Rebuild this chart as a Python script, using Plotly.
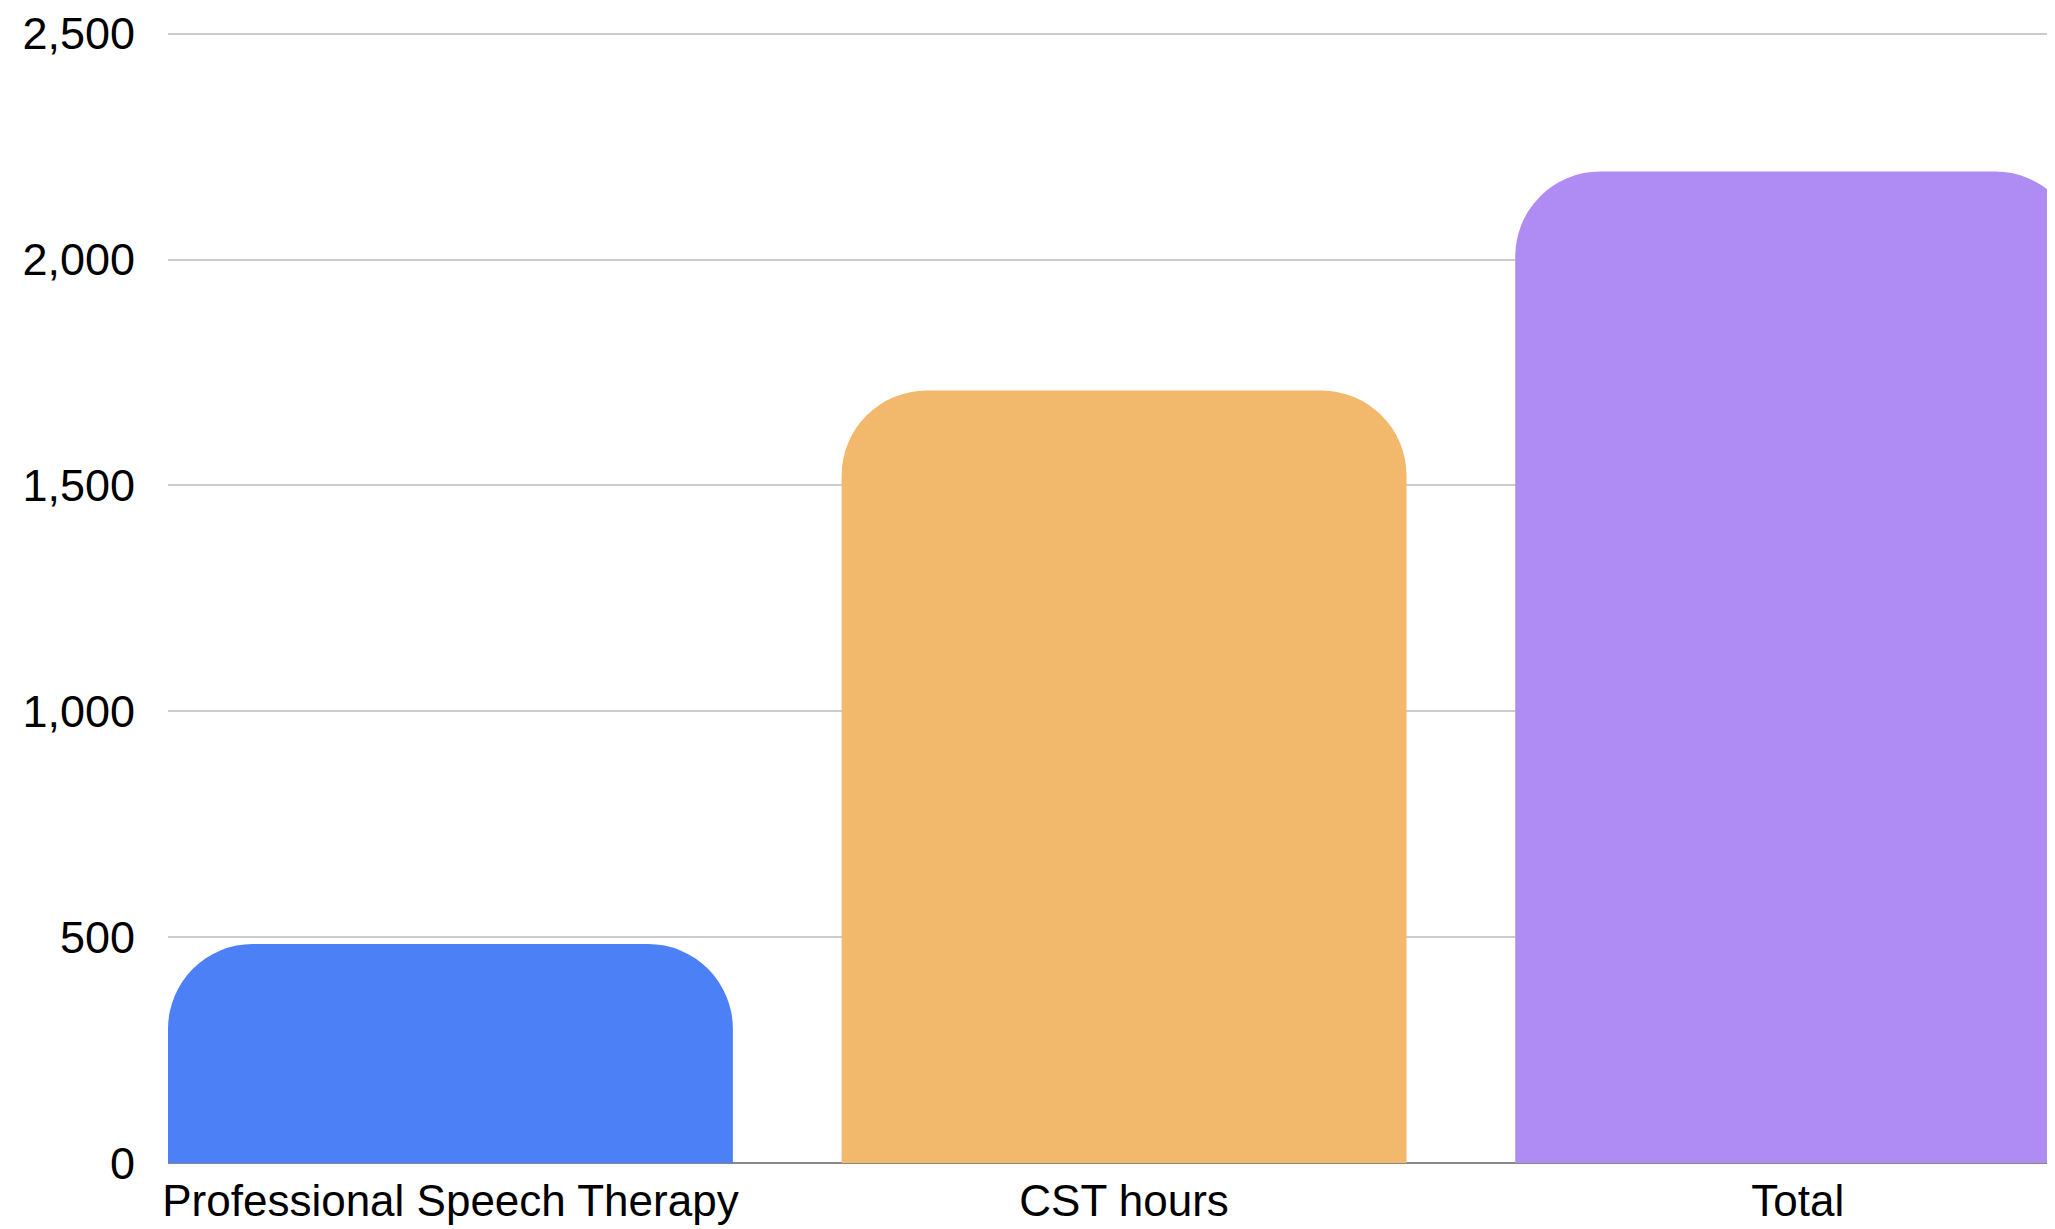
import plotly.graph_objects as go

categories = ["Professional Speech Therapy", "CST hours", "Total"]
values = [485, 1710, 2195]
colors = ["#4C80F6", "#F2B86C", "#AE8CF3"]
y_ticks = [0, 500, 1000, 1500, 2000, 2500]

fig = go.Figure(go.Bar(
    x=categories,
    y=values,
    marker=dict(color=colors, cornerradius=85, line=dict(width=0)),
    width=0.8386,
    hoverinfo="skip",
))

fig.update_layout(
    width=2047,
    height=1221,
    margin=dict(l=160, r=0, t=23, b=66),
    paper_bgcolor="white",
    plot_bgcolor="white",
    showlegend=False,
    font=dict(family="Liberation Sans, Arial, Helvetica, sans-serif", size=44, color="black"),
    xaxis=dict(
        range=[-0.4193, 2.382],
        automargin=False,
        showgrid=False,
        showline=False,
        zeroline=False,
        ticks="",
        ticklabelstandoff=8,
        tickfont=dict(size=44),
    ),
    yaxis=dict(
        range=[0, 2506],
        automargin=False,
        tickvals=y_ticks,
        tickformat=",",
        showgrid=True,
        gridcolor="#CCCCCC",
        gridwidth=1.5,
        zeroline=True,
        zerolinecolor="#888888",
        zerolinewidth=1.5,
        showline=False,
        ticks="",
        ticklabelstandoff=32,
        tickfont=dict(size=45),
    ),
)

fig.write_html("out.html")
